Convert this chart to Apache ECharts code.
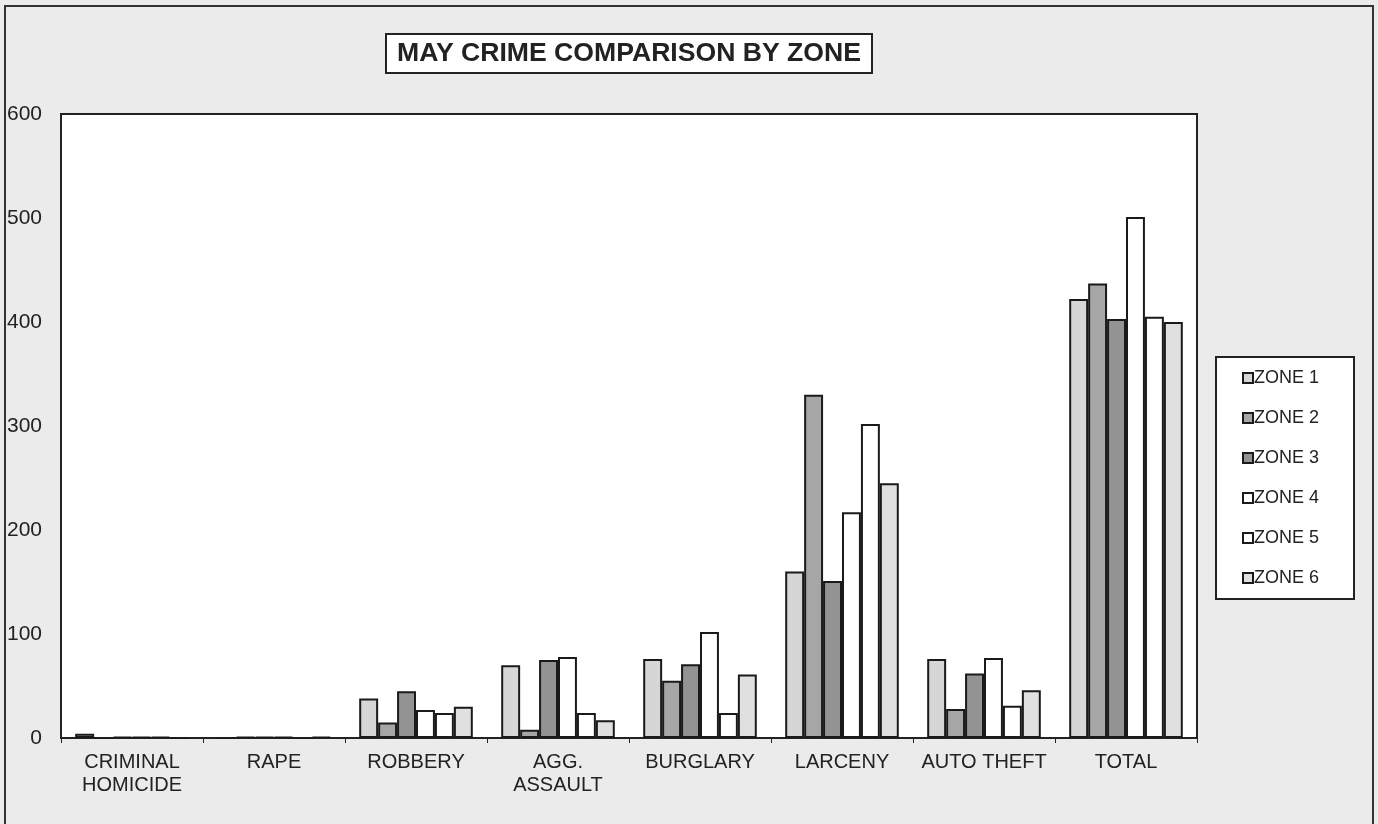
<!DOCTYPE html>
<html>
<head>
<meta charset="utf-8">
<script src="https://cdn.jsdelivr.net/npm/echarts@6/dist/echarts.min.js"></script>
<style>
html,body{margin:0;padding:0;background:#ebebeb;}
#chart{width:1378px;height:824px;}
</style>
</head>
<body>
<div id="chart"></div>
<script>
const categories = ['CRIMINAL\nHOMICIDE', 'RAPE', 'ROBBERY', 'AGG.\nASSAULT', 'BURGLARY', 'LARCENY', 'AUTO THEFT', 'TOTAL'];
const zone1 = [4, 0, 38, 70, 76, 160, 76, 422];
const zone2 = [0, 1, 15, 8, 55, 330, 28, 437];
const zone3 = [1, 1, 45, 75, 71, 151, 62, 403];
const zone4 = [1, 1, 27, 78, 102, 217, 77, 501];
const zone5 = [1, 0, 24, 24, 24, 302, 31, 405];
const zone6 = [0, 1, 30, 17, 61, 245, 46, 400];
const zoneNames = ['ZONE 1', 'ZONE 2', 'ZONE 3', 'ZONE 4', 'ZONE 5', 'ZONE 6'];
const yTicks = [0, 100, 200, 300, 400, 500, 600];

const zoneData = [zone1, zone2, zone3, zone4, zone5, zone6];
const fills = ['#d6d6d6', '#a6a6a6', '#939393', '#ffffff', '#ffffff', '#e0e0e0'];

const chart = echarts.init(document.getElementById('chart'));
const font = '"Liberation Sans", Arial, sans-serif';
chart.setOption({
  backgroundColor: '#ebebeb',
  animation: false,
  textStyle: { fontFamily: font },
  title: {
    text: 'MAY CRIME COMPARISON BY ZONE',
    left: 386, top: 34,
    borderColor: '#222', borderWidth: 2,
    backgroundColor: '#fff',
    padding: [6, 11, 6, 11],
    textStyle: { fontSize: 26.6, fontWeight: 'bold', color: '#222', fontFamily: font }
  },
  legend: {
    orient: 'vertical',
    left: 1216, top: 357,
    backgroundColor: '#fff',
    borderColor: '#222', borderWidth: 2,
    padding: [12, 35, 12, 26],
    itemGap: 22,
    itemWidth: 10, itemHeight: 10,
    icon: 'rect',
    textStyle: { fontSize: 18, color: '#222', fontFamily: font, padding: [0, 0, 0, -4] },
    data: zoneNames
  },
  grid: {
    left: 61, right: 181, top: 114, bottom: 86,
    show: true, backgroundColor: '#fff', borderColor: '#222', borderWidth: 2
  },
  xAxis: {
    type: 'category',
    data: categories,
    axisLine: { lineStyle: { color: '#222', width: 2 } },
    axisTick: { show: true, length: 5, lineStyle: { color: '#222' } },
    axisLabel: { interval: 0, fontSize: 20, color: '#222', margin: 13, lineHeight: 23, fontFamily: font }
  },
  yAxis: {
    type: 'value',
    min: yTicks[0], max: yTicks[yTicks.length - 1], interval: 100,
    axisLine: { show: true, lineStyle: { color: '#222', width: 2 } },
    axisTick: { show: false },
    splitLine: { show: false },
    axisLabel: { fontSize: 21, color: '#222', margin: 19, fontFamily: font }
  },
  series: zoneData.map((d, i) => ({
    name: zoneNames[i],
    type: 'bar',
    data: d,
    barGap: '0%',
    barCategoryGap: '20%',
    itemStyle: { color: fills[i], borderColor: '#1a1a1a', borderWidth: 2 }
  }))
});
chart.setOption({
  graphic: [{
    type: 'rect',
    shape: { x: 5, y: 6, width: 1368, height: 830 },
    style: { fill: 'none', stroke: '#333', lineWidth: 2 },
    silent: true
  }]
});
</script>
</body>
</html>
